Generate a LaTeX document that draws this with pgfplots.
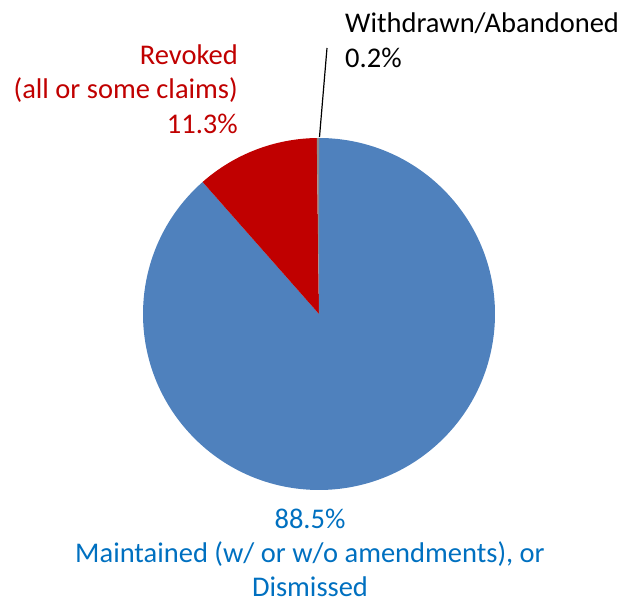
\documentclass[border=0pt]{standalone}
\usepackage{fontspec}
\setmainfont{Carlito}
\usepackage{pgfplots}
\pgfplotsset{compat=1.18}
\usepackage{pgfplotstable}
\definecolor{pieblue}{HTML}{4F81BD}
\definecolor{piered}{HTML}{C00000}
\definecolor{piegray}{HTML}{8C8C8C}
\definecolor{txtblue}{HTML}{0070C0}
\newcommand{\bigf}{\fontsize{28.5}{34}\selectfont}
\pgfplotstableread{
label share
Withdrawn 0.2
Revoked 11.3
Maintained 88.5
}\piedata
\pgfplotstablegetelem{0}{share}\of\piedata \let\sA\pgfplotsretval
\pgfplotstablegetelem{1}{share}\of\piedata \let\sB\pgfplotsretval
\pgfplotstablegetelem{2}{share}\of\piedata \let\sC\pgfplotsretval
\pgfmathsetmacro{\aA}{90}
\pgfmathsetmacro{\aB}{\aA+3.6*\sA}
\pgfmathsetmacro{\aC}{\aB+3.6*\sB}
\pgfmathsetmacro{\aD}{\aC+3.6*\sC}
\begin{document}
\begin{tikzpicture}
\begin{axis}[
  x=1pt, y=1pt, xmin=0, xmax=632, ymin=0, ymax=604,
  hide axis, clip=false, scale only axis,
]
\addplot[draw=none] coordinates {(0,0) (632,604)};
% wedges, centre (319,290), radius 176
\fill[pieblue] (axis cs:319,290) -- ++(\aC:176pt) arc[start angle=\aC, end angle=\aD, radius=176pt] -- cycle;
\fill[piered] (axis cs:319,290) -- ++(\aB:176pt) arc[start angle=\aB, end angle=\aC, radius=176pt] -- cycle;
\fill[piegray] (axis cs:319,290) -- ++(\aA:176pt) arc[start angle=\aA, end angle=\aB, radius=176pt] -- cycle;
% leader line
\draw[black, line width=1.2pt] (axis cs:319.5,467) -- (axis cs:327,556);
% labels
\node[inner sep=0pt, anchor=base west] at (axis cs:345,571) {\bigf Withdrawn/Abandoned};
\node[inner sep=0pt, anchor=base west] at (axis cs:345,536) {\bigf 0.2\%};
\node[inner sep=0pt, anchor=base east, text=piered] at (axis cs:238,539) {\bigf Revoked};
\node[inner sep=0pt, anchor=base east, text=piered] at (axis cs:238,505) {\bigf (all or some claims)};
\node[inner sep=0pt, anchor=base east, text=piered] at (axis cs:238,470) {\bigf 11.3\%};
\node[inner sep=0pt, anchor=base, text=txtblue] at (axis cs:310,75) {\bigf 88.5\%};
\node[inner sep=0pt, anchor=base, text=txtblue] at (axis cs:310,41) {\bigf Maintained (w/ or w/o amendments), or};
\node[inner sep=0pt, anchor=base, text=txtblue] at (axis cs:310,7.5) {\bigf Dismissed};
\end{axis}
\pgfresetboundingbox
\path (current axis.south west) rectangle (current axis.north east);
\end{tikzpicture}
\end{document}
